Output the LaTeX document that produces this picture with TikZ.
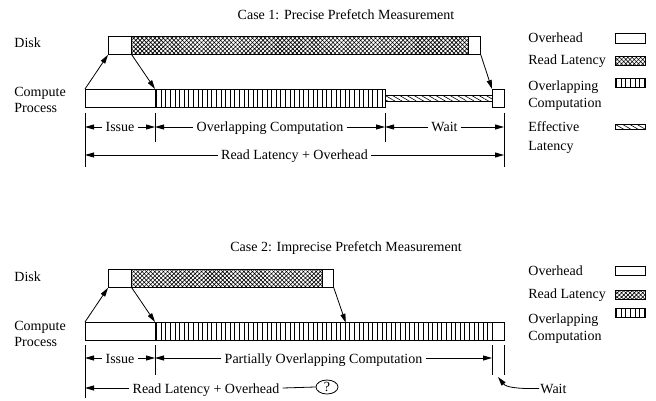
\documentclass[tikz,border=0pt]{standalone}
\usepackage{fontspec}
\setmainfont{Liberation Serif}
\usetikzlibrary{arrows.meta,patterns.meta,shapes.geometric}
\newcommand{\blk}[4]{\node[#1, minimum width=#4pt] (#2) at (#3) {}}
\newcommand{\tk}[3]{\coordinate (#1) at (#2); \draw (#1) -- ++(0,#3)}
\tikzset{
	box/.style = {draw, inner sep=0pt, anchor=north west, minimum height=18pt},
	ovh/.style = {box, fill=white},
	rdl/.style = {box, pattern={Hatch[angle=45,distance=3pt,line width=.6pt]}},
	ovc/.style = {box, pattern={Lines[angle=90,distance=4.6pt,line width=.6pt]}},
	eff/.style = {box, minimum height=6pt, pattern={Lines[angle=-30,distance=3.6pt,line width=.6pt]}},
	conn/.style = {-{Triangle[length=9pt,width=5pt]}},
	txt/.style = {inner sep=0pt, anchor=base west},
	dlbl/.style = {inner sep=3pt, text height=10pt, text depth=0pt}
}
\begin{document}
\begin{tikzpicture}[x=1pt, y=-1pt, line width=.8pt, font=\fontsize{14pt}{16pt}\selectfont]
\useasboundingbox (0,0) rectangle (656,401);
%Case 1
	\node[inner sep=0pt, anchor=base] (ttl1) at (346,19.5) {Case 1: Precise Prefetch Measurement};
	\node[txt] (dsk1) at (14,48) {Disk};
	\node[txt, align=left] (cpu1) at (14,113) {Compute\\Process};
%the disk
	\blk{ovh}{d1a}{108,36}{23};
	\blk{rdl}{d1b}{131,36}{337};
	\blk{ovh}{d1c}{468,36}{12};
%the compute process
	\blk{ovh}{c1a}{85,89}{70};
	\blk{ovc}{c1b}{155,89}{230};
	\blk{eff}{c1c}{385,95}{107};
	\blk{ovh}{c1d}{492,89}{12};
	\draw[conn] (c1a.north west) -- (d1a.south west);
	\draw[conn] (d1a.south east) -- (c1b.north west);
	\draw[conn] (d1c.south east) -- (c1d.north west);
%Measures
	\tk{k1a}{85,113}{54};
	\tk{k1b}{155,113}{29};
	\tk{k1c}{385,113}{29};
	\tk{k1d}{504,113}{54};
	\node[dlbl] (m1a) at (120,127) {Issue};
	\node[dlbl] (m1b) at (270,127) {Overlapping Computation};
	\node[dlbl] (m1c) at (444.5,127) {Wait};
	\node[dlbl] (m1d) at (294.5,155) {Read Latency + Overhead};
	\draw[conn] (m1a.west) -- (m1a.west -| k1a);
	\draw[conn] (m1a.east) -- (m1a.east -| k1b);
	\draw[conn] (m1b.west) -- (m1b.west -| k1b);
	\draw[conn] (m1b.east) -- (m1b.east -| k1c);
	\draw[conn] (m1c.west) -- (m1c.west -| k1c);
	\draw[conn] (m1c.east) -- (m1c.east -| k1d);
	\draw[conn] (m1d.west) -- (m1d.west -| k1a);
	\draw[conn] (m1d.east) -- (m1d.east -| k1d);
%Legend
	\node[txt] (g1a) at (528,43) {Overhead};
	\node[txt] (g1b) at (528,64.5) {Read Latency};
	\node[txt, align=left] (g1c) at (528,108) {Overlapping\\[1pt]Computation};
	\node[txt, align=left] (g1d) at (528,150) {Effective\\[2pt]Latency};
	\blk{ovh, minimum height=10pt}{s1a}{615,33}{30};
	\blk{rdl, minimum height=9pt}{s1b}{615,56}{30};
	\blk{ovc, minimum height=9pt}{s1c}{615,78}{30};
	\blk{eff, minimum height=5pt}{s1d}{615,124}{30};
%Case 2
	\node[inner sep=0pt, anchor=base] (ttl2) at (346,251.5) {Case 2: Imprecise Prefetch Measurement};
	\node[txt] (dsk2) at (14,281.5) {Disk};
	\node[txt, align=left] (cpu2) at (14,346) {Compute\\Process};
%the disk
	\blk{ovh}{d2a}{108,269}{23};
	\blk{rdl}{d2b}{131,269}{191};
	\blk{ovh}{d2c}{322,269}{11};
%the compute process
	\blk{ovh}{c2a}{85,322}{70};
	\blk{ovc}{c2b}{155,322}{337};
	\blk{ovh}{c2c}{492,322}{12};
	\draw[conn] (c2a.north west) -- (d2a.south west);
	\draw[conn] (d2a.south east) -- (c2b.north west);
	\draw[conn] (d2c.south east) -- ++(12,35);
%Measures
	\tk{k2a}{85,345}{53};
	\tk{k2b}{155,345}{30};
	\tk{k2c}{492,345}{30};
	\tk{k2d}{504,345}{30};
	\node[dlbl] (m2a) at (120,358) {Issue};
	\node[dlbl] (m2b) at (323.5,358) {Partially Overlapping Computation};
	\node[dlbl] (m2c) at (206,388) {Read Latency + Overhead};
	\node[ellipse, draw, inner sep=0pt, minimum width=22pt, minimum height=14pt] (q2) at (327,387) {?};
	\draw[conn] (m2a.west) -- (m2a.west -| k2a);
	\draw[conn] (m2a.east) -- (m2a.east -| k2b);
	\draw[conn] (m2b.west) -- (m2b.west -| k2b);
	\draw[conn] (m2b.east) -- (m2b.east -| k2c);
	\draw[conn] (m2c.west) -- (m2c.west -| k2a);
	\draw (m2c.east) -- (q2.west);
	\node[txt, inner sep=1pt] (w2) at (539,393) {Wait};
	\coordinate (w2t) at (498,377);
	\draw[conn] (w2.west) .. controls (516,389) and (506,387) .. (w2t);
%Legend
	\node[txt] (g2a) at (528,275) {Overhead};
	\node[txt] (g2b) at (528,298) {Read Latency};
	\node[txt, align=left] (g2c) at (528,340) {Overlapping\\[1pt]Computation};
	\blk{ovh, minimum height=9pt}{s2a}{615,266}{30};
	\blk{rdl, minimum height=9pt}{s2b}{615,290}{30};
	\blk{ovc, minimum height=9pt}{s2c}{615,308}{30};
\end{tikzpicture}
\end{document}
